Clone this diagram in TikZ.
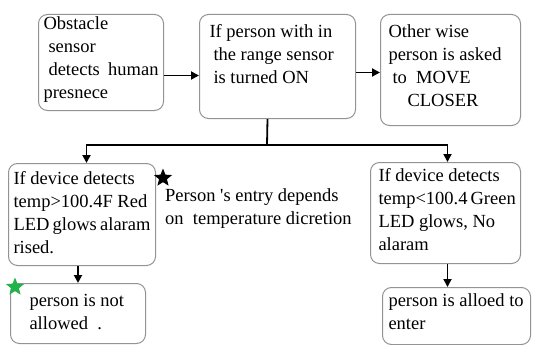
\documentclass[tikz,border=0pt]{standalone}
\usepackage{fontspec}
\setmainfont{Liberation Serif}
\usetikzlibrary{arrows.meta, shapes.geometric, positioning, calc}

\newcommand{\boxtext}[3]{\parbox[t][#2][t]{#1}{#3}}

\begin{document}
\begin{tikzpicture}[>={Triangle[length=8pt, width=8pt]}, x=1pt, y=-1pt,
    every node/.style={font=\rmfamily\fontsize{18.5}{23}\selectfont},
    block/.style={draw=gray!85, line width=1pt, rounded corners=9pt, anchor=north west},
    link/.style={line width=1.8pt},
    starmark/.style={star, star points=5, star point ratio=2.3, minimum size=19pt, inner sep=0pt}]
        \useasboundingbox (0,0) rectangle (533,345);

        % Ve cac khoi
        \node[block, inner xsep=5pt, inner ysep=2pt] (obst) at (38,14)
            {\boxtext{115pt}{92pt}{Obstacle\\ \hspace*{5pt}sensor\\ \hspace*{5pt}detects~~human\\presnece}};
        \node[block, inner xsep=10pt, inner ysep=10pt] (cond) at (199,14)
            {\boxtext{136pt}{84pt}{If~person~with~in\\ \hspace*{4pt}the~range~sensor\\ \hspace*{4pt}is~turned~ON}};
        \node[block, inner xsep=8pt, inner ysep=10pt] (other) at (380,14)
            {\boxtext{124pt}{91pt}{Other~wise\\person~is~asked\\ \hspace*{4pt}to~~MOVE\\ \hspace*{19pt}CLOSER}};
        \node[block, inner xsep=5pt, inner ysep=8pt] (hot) at (8,163)
            {\boxtext{137pt}{86pt}{If~device~detects\\temp>100.4F~Red\\LED~glows~alaram\\rised.}};
        \node[block, inner xsep=8pt, inner ysep=6pt] (cool) at (370,162)
            {\boxtext{134pt}{89pt}{If~device~detects\\temp<100.4~Green\\LED~glows,~No\\alaram}};
        \node[block, inner xsep=19pt, inner ysep=11pt] (deny) at (10,283)
            {\boxtext{97pt}{38pt}{person~is~not\\allowed~~.}};
        \node[block, inner xsep=6pt, inner ysep=6pt] (allow) at (382,287)
            {\boxtext{136pt}{45pt}{person~is~alloed~to\\enter}};

        % Ghi chu va ngoi sao
        \node[anchor=north west, inner sep=0pt, align=left] (remark) at (165,188)
            {Person~\textquotesingle s~entry~depends\\on~~temperature~dicretion};
        \node[starmark, fill=black] (hotstar) at (163,178) {};
        \node[starmark, fill={rgb,255:red,34;green,177;blue,76}] (denystar) at (15,287) {};

        % Ve cac mui ten
        \draw[link, ->] ([yshift=-13pt]obst.east) -- ([yshift=-13pt]obst.east -| cond.west);
        \draw[link, ->] ([yshift=-6pt]cond.east) -- ([yshift=-6pt]cond.east -| other.west);
        \coordinate (split) at (267,145);
        \draw[link] ([xshift=-10pt]cond.south) -- (split);
        \draw[link, ->] (split) -| ([xshift=4.5pt]hot.north);
        \draw[link, ->] (split) -| ([xshift=2pt]cool.north);
        \draw[link, ->] (hot.south -| deny.north) -- (deny.north);
        \draw[link, ->] ([xshift=2pt]cool.south) -- ([xshift=2pt]cool.south |- allow.north);
    \end{tikzpicture}
\end{document}
